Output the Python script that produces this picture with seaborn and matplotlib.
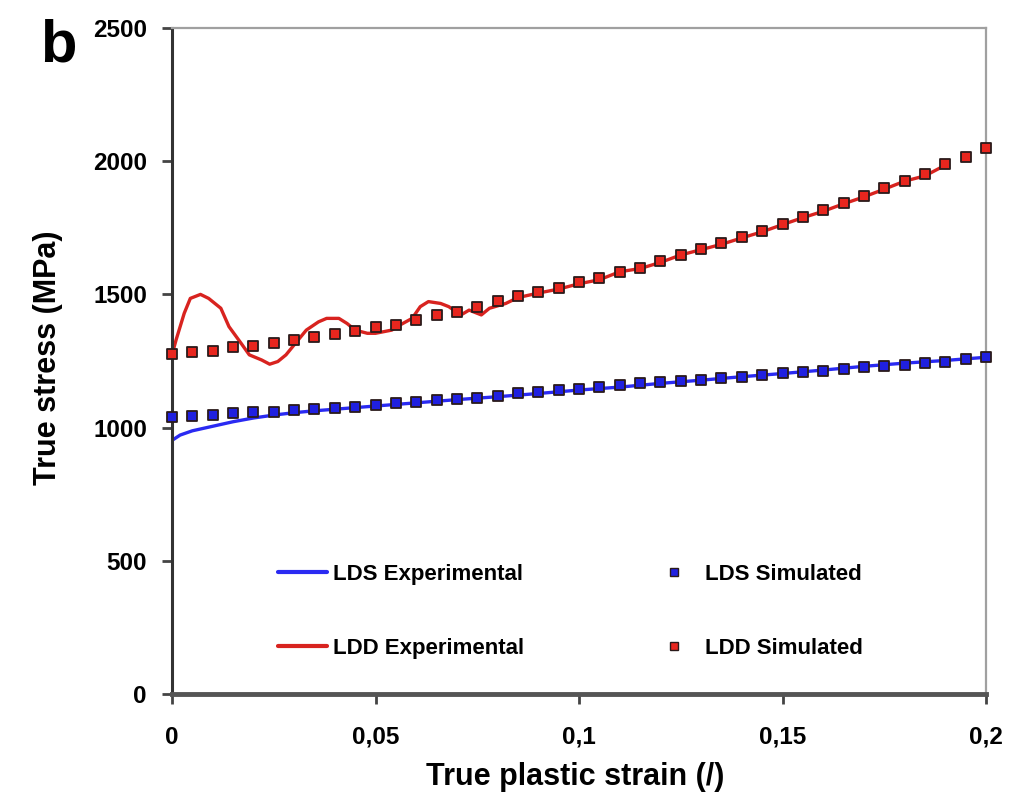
import matplotlib
matplotlib.use("Agg")
import matplotlib.pyplot as plt
from matplotlib.lines import Line2D
import seaborn as sns

# simulated points, one every 0.005 of strain
sim_strain = [i * 0.005 for i in range(41)]
lds_sim_stress = [1040, 1042, 1048, 1054, 1058, 1060, 1066, 1070, 1072, 1078,
                  1085, 1091, 1097, 1104, 1106, 1112, 1120, 1129, 1135, 1141,
                  1145, 1151, 1160, 1166, 1170, 1176, 1179, 1185, 1191, 1198,
                  1204, 1208, 1214, 1219, 1229, 1231, 1235, 1241, 1247, 1256,
                  1264]
ldd_sim_stress = [1275, 1285, 1289, 1301, 1308, 1317, 1329, 1341, 1351, 1363,
                  1379, 1385, 1404, 1423, 1435, 1454, 1476, 1494, 1510, 1525,
                  1548, 1563, 1585, 1598, 1627, 1648, 1671, 1692, 1716, 1738,
                  1764, 1792, 1817, 1842, 1869, 1898, 1927, 1952, 1989, 2015,
                  2048]

# experimental curves
lds_exp_strain = [0, 0.002, 0.005, 0.01, 0.015, 0.02, 0.025, 0.03, 0.035, 0.04,
                  0.045, 0.05, 0.06, 0.07, 0.08, 0.09, 0.1, 0.11, 0.12, 0.13,
                  0.14, 0.15, 0.16, 0.17, 0.18, 0.19, 0.2]
lds_exp_stress = [952, 972, 988, 1005, 1022, 1036, 1047, 1056, 1063, 1069,
                  1075, 1081, 1093, 1105, 1116, 1128, 1141, 1152, 1166, 1178,
                  1191, 1203, 1216, 1230, 1242, 1252, 1264]

ldd_exp_strain = [0, 0.001, 0.003, 0.0045, 0.007, 0.009, 0.012, 0.014, 0.017,
                  0.019, 0.022, 0.024, 0.026, 0.028, 0.031, 0.033, 0.036, 0.038,
                  0.041, 0.043, 0.045, 0.048, 0.05, 0.054, 0.056, 0.059, 0.061,
                  0.063, 0.066, 0.068, 0.071, 0.073, 0.076, 0.078, 0.082,
                  0.085, 0.09, 0.095, 0.1, 0.105, 0.11, 0.115, 0.12, 0.125,
                  0.13, 0.135, 0.14, 0.145, 0.15, 0.155, 0.16, 0.165, 0.17,
                  0.175, 0.18, 0.185, 0.19]
ldd_exp_stress = [1273, 1329, 1429, 1485, 1500, 1485, 1448, 1379, 1316,
                  1273, 1254, 1238, 1248, 1273, 1329, 1366, 1397, 1410,
                  1410, 1391, 1366, 1354, 1354, 1366, 1385, 1410, 1454,
                  1473, 1466, 1454, 1423, 1441, 1423, 1448, 1466,
                  1488, 1505, 1520, 1540, 1555, 1585, 1597, 1620, 1648,
                  1668, 1688, 1712, 1735, 1762, 1788, 1812, 1840, 1866,
                  1895, 1925, 1945, 1985]

x_ticks = [0, 0.05, 0.1, 0.15, 0.2]
x_tick_labels = ["0", "0,05", "0,1", "0,15", "0,2"]
y_ticks = [0, 500, 1000, 1500, 2000, 2500]

BLUE_LINE = "#2a2af2"
RED_LINE = "#d8231f"
BLUE_FILL = "#2020e0"
RED_FILL = "#e8261e"
EDGE = "#2a1a1a"

sns.set_style("white")
plt.rcParams["font.family"] = ["Liberation Sans", "DejaVu Sans"]
plt.rcParams["font.weight"] = "bold"
plt.rcParams["text.color"] = "black"
plt.rcParams["axes.labelcolor"] = "black"

fig = plt.figure(figsize=(10.10, 7.99), dpi=100)
ax = fig.add_axes([172 / 1010, 105 / 799, 814 / 1010, 666 / 799])

sns.lineplot(x=lds_exp_strain, y=lds_exp_stress, ax=ax, color=BLUE_LINE, lw=2.4)
sns.lineplot(x=ldd_exp_strain, y=ldd_exp_stress, ax=ax, color=RED_LINE, lw=2.4)
sns.scatterplot(x=sim_strain, y=lds_sim_stress, ax=ax, marker="s", s=52,
                color=BLUE_FILL, edgecolor=EDGE, linewidth=1.3, clip_on=False, zorder=5)
sns.scatterplot(x=sim_strain, y=ldd_sim_stress, ax=ax, marker="s", s=52,
                color=RED_FILL, edgecolor=EDGE, linewidth=1.3, clip_on=False, zorder=5)

ax.set_xlim(0, 0.2)
ax.set_ylim(0, 2500)
ax.set_xticks(x_ticks)
ax.set_xticklabels(x_tick_labels)
ax.set_yticks(y_ticks)
ax.tick_params(direction="out", length=7, width=2, colors="#444444",
               labelcolor="black", labelsize=17.5, pad=11,
               bottom=True, left=True)
for lab in ax.get_xticklabels() + ax.get_yticklabels():
    lab.set_fontweight("bold")
ax.tick_params(axis="x", pad=16)

ax.spines["left"].set_color("#333333")
ax.spines["left"].set_linewidth(2.2)
ax.spines["bottom"].set_color("#555555")
ax.spines["bottom"].set_linewidth(3.5)
for s in ["top", "right"]:
    ax.spines[s].set_color("#a0a0a0")
    ax.spines[s].set_linewidth(1.6)

ax.set_xlabel("True plastic strain (/)", fontsize=22, fontweight="bold", color="black")
ax.set_ylabel("True stress (MPa)", fontsize=22, fontweight="bold", color="black")
ax.xaxis.set_label_coords(0.495, -0.102)
ax.yaxis.set_label_coords(-0.134, 0.505)

exp_handles = [Line2D([], [], color=BLUE_LINE, lw=3),
               Line2D([], [], color=RED_LINE, lw=3)]
sim_handles = [Line2D([], [], ls="none", marker="s", ms=5.5, mfc=BLUE_FILL, mec=EDGE, mew=1),
               Line2D([], [], ls="none", marker="s", ms=5.5, mfc=RED_FILL, mec=EDGE, mew=1)]
leg1 = ax.legend(exp_handles, ["LDS Experimental", "LDD Experimental"],
                 loc="center left", bbox_to_anchor=(0.130, 0.124), frameon=False,
                 prop={"size": 16, "weight": "bold"}, handlelength=2.2,
                 handletextpad=0.3, labelspacing=2.4, borderpad=0, borderaxespad=0,
                 labelcolor="black")
ax.add_artist(leg1)
ax.legend(sim_handles, ["LDS Simulated", "LDD Simulated"],
          loc="center left", bbox_to_anchor=(0.606, 0.124), frameon=False,
          prop={"size": 16, "weight": "bold"}, handlelength=0.8,
          handletextpad=1.0, labelspacing=2.4, borderpad=0, borderaxespad=0,
          labelcolor="black")

fig.text(40 / 1010, 1 - 46 / 799, "b", fontsize=43, fontweight="bold",
         va="center", color="black")

fig.savefig("out.png", dpi=100, facecolor="white")
